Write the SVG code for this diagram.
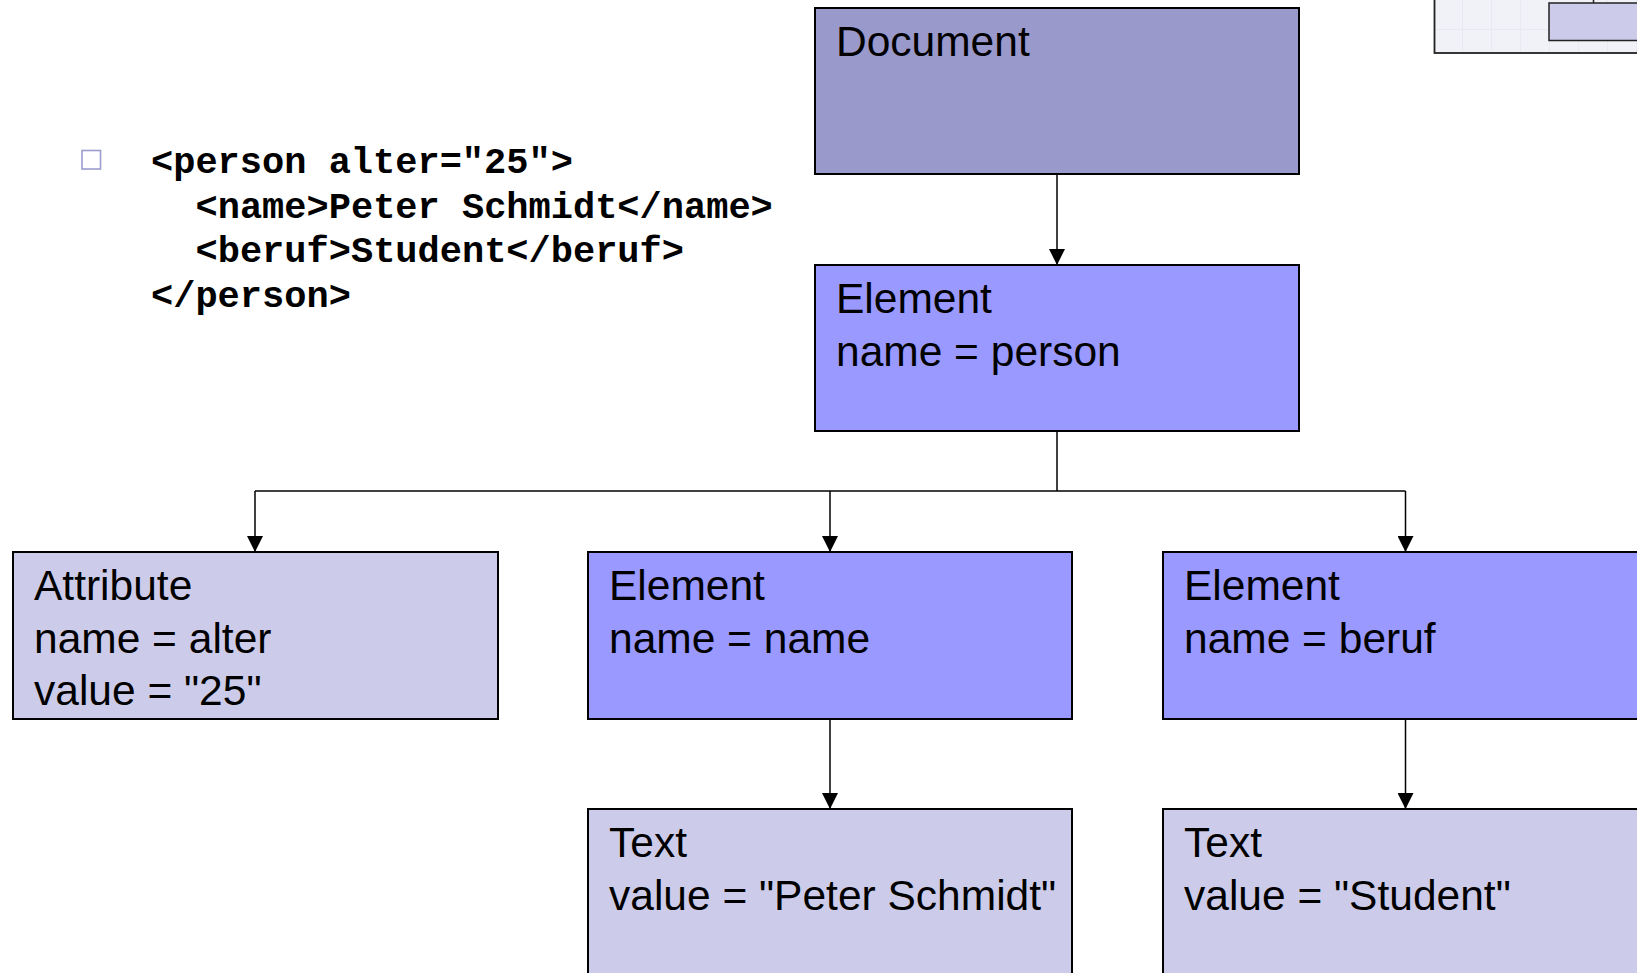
<svg xmlns="http://www.w3.org/2000/svg" width="1637" height="973" viewBox="0 0 1637 973">
  <defs>
    <marker id="arrow" markerUnits="userSpaceOnUse" markerWidth="16" markerHeight="16" viewBox="0 0 16 16" refX="16" refY="8" orient="auto">
      <path d="M0,0 L16,8 L0,16 Z" fill="#000"/>
    </marker>
    <pattern id="grid" width="29" height="30" patternUnits="userSpaceOnUse" x="1434" y="0">
      <rect width="29" height="30" fill="#f1f1f8"/>
      <path d="M29,0 V30 M0,30 H29" stroke="#e2e2ee" stroke-width="1" fill="none"/>
    </pattern>
    <style>
      .box { stroke: #000; stroke-width: 2; }
      .doc { fill: #9999cc; }
      .elem { fill: #9999ff; }
      .leaf { fill: #ccccea; }
      .lbl { font-family: "Liberation Sans", Arial, sans-serif; font-size: 42.5px; fill: #000; }
      .code { font-family: "Liberation Mono", "Courier New", monospace; font-weight: bold; font-size: 37px; fill: #000; }
      .conn { stroke: #000; stroke-width: 1.5; fill: none; }
    </style>
  </defs>

  <rect width="1637" height="973" fill="#fff"/>

  <!-- small overview thumbnail, top right -->
  <g id="thumbnail">
    <rect x="1434.5" y="-10" width="220" height="63" fill="url(#grid)" stroke="#222" stroke-width="1.8"/>
    <line x1="1593.5" y1="0" x2="1593.5" y2="3" stroke="#222" stroke-width="1.5"/>
    <rect x="1549" y="3" width="100" height="37.5" fill="#ccccea" stroke="#222" stroke-width="1.5"/>
  </g>

  <!-- XML source listing -->
  <g id="code">
    <rect x="82" y="150.5" width="18.5" height="18.5" fill="#fff" stroke="#9c9ccf" stroke-width="1.6"/>
    <text class="code" x="151" y="173">&lt;person alter="25"&gt;</text>
    <text class="code" x="195.5" y="217.5">&lt;name&gt;Peter Schmidt&lt;/name&gt;</text>
    <text class="code" x="195.5" y="262">&lt;beruf&gt;Student&lt;/beruf&gt;</text>
    <text class="code" x="151" y="306.5">&lt;/person&gt;</text>
  </g>

  <!-- connectors -->
  <g id="connectors">
    <line class="conn" x1="1057" y1="174" x2="1057" y2="265" marker-end="url(#arrow)"/>
    <line class="conn" x1="1057" y1="431" x2="1057" y2="491"/>
    <line class="conn" x1="255" y1="491" x2="1405.5" y2="491"/>
    <line class="conn" x1="255" y1="491" x2="255" y2="552" marker-end="url(#arrow)"/>
    <line class="conn" x1="830" y1="491" x2="830" y2="552" marker-end="url(#arrow)"/>
    <line class="conn" x1="1405.5" y1="491" x2="1405.5" y2="552" marker-end="url(#arrow)"/>
    <line class="conn" x1="830" y1="719" x2="830" y2="809" marker-end="url(#arrow)"/>
    <line class="conn" x1="1405.5" y1="719" x2="1405.5" y2="809" marker-end="url(#arrow)"/>
  </g>

  <g id="node-document">
    <rect class="box doc" x="815" y="8" width="484" height="166"/>
    <text class="lbl" x="836" y="56">Document</text>
  </g>

  <g id="node-person">
    <rect class="box elem" x="815" y="265" width="484" height="166"/>
    <text class="lbl" x="836" y="313">Element</text>
    <text class="lbl" x="836" y="365.5">name = person</text>
  </g>

  <g id="node-attribute">
    <rect class="box leaf" x="13" y="552" width="485" height="167"/>
    <text class="lbl" x="34" y="600">Attribute</text>
    <text class="lbl" x="34" y="652.5">name = alter</text>
    <text class="lbl" x="34" y="705">value = "25"</text>
  </g>

  <g id="node-name">
    <rect class="box elem" x="588" y="552" width="484" height="167"/>
    <text class="lbl" x="609" y="600">Element</text>
    <text class="lbl" x="609" y="652.5">name = name</text>
  </g>

  <g id="node-beruf">
    <rect class="box elem" x="1163" y="552" width="485" height="167"/>
    <text class="lbl" x="1184" y="600">Element</text>
    <text class="lbl" x="1184" y="652.5">name = beruf</text>
  </g>

  <g id="node-text-name">
    <rect class="box leaf" x="588" y="809" width="484" height="180"/>
    <text class="lbl" x="609" y="857">Text</text>
    <text class="lbl" x="609" y="909.5">value = "Peter Schmidt"</text>
  </g>

  <g id="node-text-beruf">
    <rect class="box leaf" x="1163" y="809" width="485" height="180"/>
    <text class="lbl" x="1184" y="857">Text</text>
    <text class="lbl" x="1184" y="909.5">value = "Student"</text>
  </g>
</svg>
